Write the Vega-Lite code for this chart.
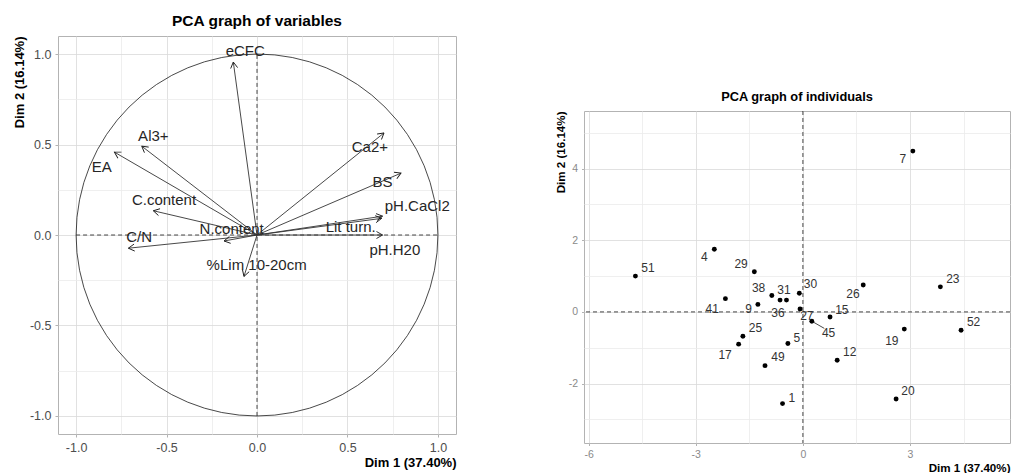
{
  "$schema": "https://vega.github.io/schema/vega-lite/v6.json",
  "background": "white",
  "padding": {"left": 12, "top": 13, "right": 0, "bottom": 0},
  "spacing": 97,
  "datasets": {
    "vars": [
      {"var": "eCFC", "x": -0.131, "y": 0.956, "lx": -0.065, "ly": 1.016},
      {"var": "Al3+", "x": -0.637, "y": 0.491, "lx": -0.573, "ly": 0.548},
      {"var": "EA", "x": -0.788, "y": 0.458, "lx": -0.858, "ly": 0.375},
      {"var": "Ca2+", "x": 0.702, "y": 0.564, "lx": 0.624, "ly": 0.485},
      {"var": "BS", "x": 0.796, "y": 0.342, "lx": 0.694, "ly": 0.291},
      {"var": "pH.CaCl2", "x": 0.694, "y": 0.104, "lx": 0.886, "ly": 0.159},
      {"var": "Lit turn.", "x": 0.689, "y": 0.092, "lx": 0.518, "ly": 0.046},
      {"var": "pH.H20", "x": 0.694, "y": 0.0, "lx": 0.762, "ly": -0.082},
      {"var": "C.content", "x": -0.573, "y": 0.134, "lx": -0.514, "ly": 0.192},
      {"var": "N.content", "x": -0.182, "y": -0.033, "lx": -0.14, "ly": 0.031},
      {"var": "C/N", "x": -0.711, "y": -0.073, "lx": -0.652, "ly": -0.009},
      {"var": "%Lim 10-20cm", "x": -0.072, "y": -0.229, "lx": -0.002, "ly": -0.165}
    ],
    "ind": [
      {"id": "51", "x": -4.69, "y": 1.0, "lx": -4.34, "ly": 1.24},
      {"id": "4", "x": -2.48, "y": 1.75, "lx": -2.76, "ly": 1.52},
      {"id": "29", "x": -1.36, "y": 1.12, "lx": -1.73, "ly": 1.35},
      {"id": "7", "x": 3.08, "y": 4.49, "lx": 2.8, "ly": 4.26},
      {"id": "38", "x": -0.87, "y": 0.46, "lx": -1.24, "ly": 0.68},
      {"id": "31", "x": -0.46, "y": 0.33, "lx": -0.53, "ly": 0.61},
      {"id": "36", "x": -0.64, "y": 0.33, "lx": -0.7, "ly": -0.02},
      {"id": "30", "x": -0.1, "y": 0.52, "lx": 0.21, "ly": 0.77},
      {"id": "41", "x": -2.17, "y": 0.37, "lx": -2.54, "ly": 0.07},
      {"id": "9", "x": -1.26, "y": 0.21, "lx": -1.52, "ly": 0.09},
      {"id": "27", "x": -0.08, "y": 0.08, "lx": 0.11, "ly": -0.11},
      {"id": "45", "x": 0.25, "y": -0.26, "lx": 0.72, "ly": -0.59},
      {"id": "15", "x": 0.76, "y": -0.14, "lx": 1.09, "ly": 0.05},
      {"id": "26", "x": 1.69, "y": 0.75, "lx": 1.4, "ly": 0.49},
      {"id": "23", "x": 3.85, "y": 0.7, "lx": 4.2, "ly": 0.91},
      {"id": "52", "x": 4.43, "y": -0.51, "lx": 4.78, "ly": -0.28},
      {"id": "19", "x": 2.84, "y": -0.48, "lx": 2.49, "ly": -0.81},
      {"id": "25", "x": -1.68, "y": -0.68, "lx": -1.33, "ly": -0.46},
      {"id": "17", "x": -1.8, "y": -0.9, "lx": -2.18, "ly": -1.21},
      {"id": "5", "x": -0.42, "y": -0.88, "lx": -0.17, "ly": -0.72},
      {"id": "49", "x": -1.06, "y": -1.5, "lx": -0.7, "ly": -1.27},
      {"id": "12", "x": 0.96, "y": -1.35, "lx": 1.31, "ly": -1.12},
      {"id": "1", "x": -0.57, "y": -2.56, "lx": -0.31, "ly": -2.39},
      {"id": "20", "x": 2.61, "y": -2.43, "lx": 2.94, "ly": -2.21}
    ],
    "seg": [
      {"x": 0.25, "y": -0.26, "xe": 0.6, "ye": -0.46}
    ]
  },
  "hconcat": [
    {
      "width": 398,
      "height": 398,
      "title": {"text": "PCA graph of variables", "fontSize": 15.5, "offset": 7},
      "layer": [
        {
          "data": {"values": [{}]},
          "mark": {"type": "point", "shape": "circle", "filled": false, "size": 130900, "stroke": "#1a1a1a", "strokeWidth": 0.8, "opacity": 1},
          "encoding": {
            "x": {"datum": 0, "type": "quantitative",
              "scale": {"domain": [-1.1, 1.1], "nice": false, "zero": false},
              "axis": {
                "title": "Dim 1 (37.40%)", "titleAnchor": "end", "titleFontSize": 13, "titlePadding": 3, "grid": true,
                "values": [-1, -0.75, -0.5, -0.25, 0, 0.25, 0.5, 0.75, 1],
                "labelExpr": "abs(datum.value*2 - round(datum.value*2)) < 0.01 ? replace(format(datum.value, '.1f'), '\u2212', '-') : ''",
                "labelFontSize": 12.5, "labelColor": "#4d4d4d", "labelPadding": 4, "labelFlush": false,
                "tickOpacity": {"condition": {"test": "abs(datum.value*2 - round(datum.value*2)) < 0.01", "value": 1}, "value": 0},
                "gridColor": {"condition": {"test": "abs(datum.value*2 - round(datum.value*2)) < 0.01", "value": "#d9d9d9"}, "value": "#ebebeb"}
              }},
            "y": {"datum": 0, "type": "quantitative",
              "scale": {"domain": [-1.1, 1.1], "nice": false, "zero": false},
              "axis": {
                "title": "Dim 2 (16.14%)", "titleAnchor": "end", "titleFontSize": 13, "titlePadding": 3, "grid": true,
                "values": [-1, -0.75, -0.5, -0.25, 0, 0.25, 0.5, 0.75, 1],
                "labelExpr": "abs(datum.value*2 - round(datum.value*2)) < 0.01 ? replace(format(datum.value, '.1f'), '\u2212', '-') : ''",
                "labelFontSize": 12.5, "labelColor": "#4d4d4d", "labelPadding": 4,
                "tickOpacity": {"condition": {"test": "abs(datum.value*2 - round(datum.value*2)) < 0.01", "value": 1}, "value": 0},
                "gridColor": {"condition": {"test": "abs(datum.value*2 - round(datum.value*2)) < 0.01", "value": "#d9d9d9"}, "value": "#ebebeb"}
              }}
          }
        },
        {
          "data": {"values": [{}]},
          "mark": {"type": "rule", "strokeDash": [4, 3], "stroke": "#1a1a1a", "strokeWidth": 0.8},
          "encoding": {
            "x": {"datum": 0, "type": "quantitative"},
            "y": {"datum": -1, "type": "quantitative"},
            "y2": {"datum": 1}
          }
        },
        {
          "data": {"values": [{}]},
          "mark": {"type": "rule", "strokeDash": [4, 3], "stroke": "#1a1a1a", "strokeWidth": 0.8},
          "encoding": {
            "y": {"datum": 0, "type": "quantitative"},
            "x": {"datum": -1, "type": "quantitative"},
            "x2": {"datum": 1}
          }
        },
        {
          "data": {"name": "vars"},
          "mark": {"type": "rule", "stroke": "#333333", "strokeWidth": 0.9},
          "encoding": {
            "x": {"field": "x", "type": "quantitative"},
            "y": {"field": "y", "type": "quantitative"},
            "x2": {"datum": 0},
            "y2": {"datum": 0}
          }
        },
        {
          "data": {"name": "vars"},
          "transform": [{"calculate": "atan2(datum.x, datum.y) * 180 / PI", "as": "ang"}],
          "mark": {"type": "point", "shape": "M-0.5,0.866L0,0L0.5,0.866", "filled": false, "size": 196, "stroke": "#1a1a1a", "strokeWidth": 0.9, "opacity": 1},
          "encoding": {
            "x": {"field": "x", "type": "quantitative"},
            "y": {"field": "y", "type": "quantitative"},
            "angle": {"field": "ang", "type": "quantitative", "scale": null}
          }
        },
        {
          "data": {"name": "vars"},
          "mark": {"type": "text", "fontSize": 15, "color": "#262626", "font": "Liberation Sans", "align": "center", "baseline": "middle"},
          "encoding": {
            "x": {"field": "lx", "type": "quantitative"},
            "y": {"field": "ly", "type": "quantitative"},
            "text": {"field": "var"}
          }
        }
      ]
    },
    {
      "spacing": 48,
      "vconcat": [
        {
          "width": 10,
          "height": 1,
          "view": {"stroke": null},
          "data": {"values": [{}]},
          "mark": {"type": "text", "text": ""},
          "encoding": {}
        },
        {
          "width": 426,
          "height": 332,
          "title": {"text": "PCA graph of individuals", "fontSize": 12.8, "offset": 7},
          "layer": [
            {
              "data": {"values": [{}]},
              "mark": {"type": "rule", "strokeDash": [4, 3], "stroke": "#1a1a1a", "strokeWidth": 0.8},
              "encoding": {
                "x": {"datum": 0, "type": "quantitative",
                  "scale": {"domain": [-6.13, 5.8], "nice": false, "zero": false},
                  "axis": {
                    "title": "Dim 1 (37.40%)", "titleAnchor": "end", "titleFontSize": 11.6, "titlePadding": 2, "grid": true,
                    "values": [-6, -4.5, -3, -1.5, 0, 1.5, 3, 4.5],
                    "labelExpr": "abs(datum.value/3 - round(datum.value/3)) < 0.01 ? replace(format(datum.value, 'd'), '\u2212', '-') : ''",
                    "labelFontSize": 10.5, "labelColor": "#8a8a8a", "labelPadding": 4, "labelFlush": false, "tickSize": 2.5,
                    "tickOpacity": {"condition": {"test": "abs(datum.value/3 - round(datum.value/3)) < 0.01", "value": 1}, "value": 0},
                    "gridColor": {"condition": {"test": "abs(datum.value/3 - round(datum.value/3)) < 0.01", "value": "#d9d9d9"}, "value": "#ebebeb"}
                  }}
              }
            },
            {
              "data": {"values": [{}]},
              "mark": {"type": "rule", "strokeDash": [4, 3], "stroke": "#1a1a1a", "strokeWidth": 0.8},
              "encoding": {
                "y": {"datum": 0, "type": "quantitative",
                  "scale": {"domain": [-3.66, 5.61], "nice": false, "zero": false},
                  "axis": {
                    "title": "Dim 2 (16.14%)", "titleAnchor": "end", "titleFontSize": 11.6, "titlePadding": 2, "grid": true,
                    "values": [-3, -2, -1, 0, 1, 2, 3, 4, 5],
                    "labelExpr": "abs(datum.value/2 - round(datum.value/2)) < 0.01 ? replace(format(datum.value, 'd'), '\u2212', '-') : ''",
                    "labelFontSize": 10.5, "labelColor": "#8a8a8a", "labelPadding": 4, "tickSize": 2.5,
                    "tickOpacity": {"condition": {"test": "abs(datum.value/2 - round(datum.value/2)) < 0.01", "value": 1}, "value": 0},
                    "gridColor": {"condition": {"test": "abs(datum.value/2 - round(datum.value/2)) < 0.01", "value": "#d9d9d9"}, "value": "#ebebeb"}
                  }}
              }
            },
            {
              "data": {"name": "seg"},
              "mark": {"type": "rule", "stroke": "#1a1a1a", "strokeWidth": 0.8},
              "encoding": {
                "x": {"field": "x", "type": "quantitative"},
                "y": {"field": "y", "type": "quantitative"},
                "x2": {"field": "xe"},
                "y2": {"field": "ye"}
              }
            },
            {
              "data": {"name": "ind"},
              "mark": {"type": "point", "shape": "circle", "filled": true, "size": 24, "color": "#000000", "opacity": 1},
              "encoding": {
                "x": {"field": "x", "type": "quantitative"},
                "y": {"field": "y", "type": "quantitative"}
              }
            },
            {
              "data": {"name": "ind"},
              "mark": {"type": "text", "fontSize": 12, "color": "#333333", "font": "Liberation Sans", "align": "center", "baseline": "middle"},
              "encoding": {
                "x": {"field": "lx", "type": "quantitative"},
                "y": {"field": "ly", "type": "quantitative"},
                "text": {"field": "id"}
              }
            }
          ]
        }
      ]
    }
  ],
  "config": {
    "font": "Liberation Sans",
    "view": {"stroke": "#b3b3b3", "strokeWidth": 1},
    "axis": {
      "domain": false,
      "grid": true,
      "gridWidth": 0.8,
      "tickColor": "#b3b3b3",
      "tickSize": 3,
      "labelFont": "Liberation Sans",
      "titleFont": "Liberation Sans",
      "titleFontWeight": "bold",
      "titleColor": "#000000"
    },
    "title": {"font": "Liberation Sans", "fontWeight": "bold", "color": "#000000", "anchor": "middle"}
  }
}
